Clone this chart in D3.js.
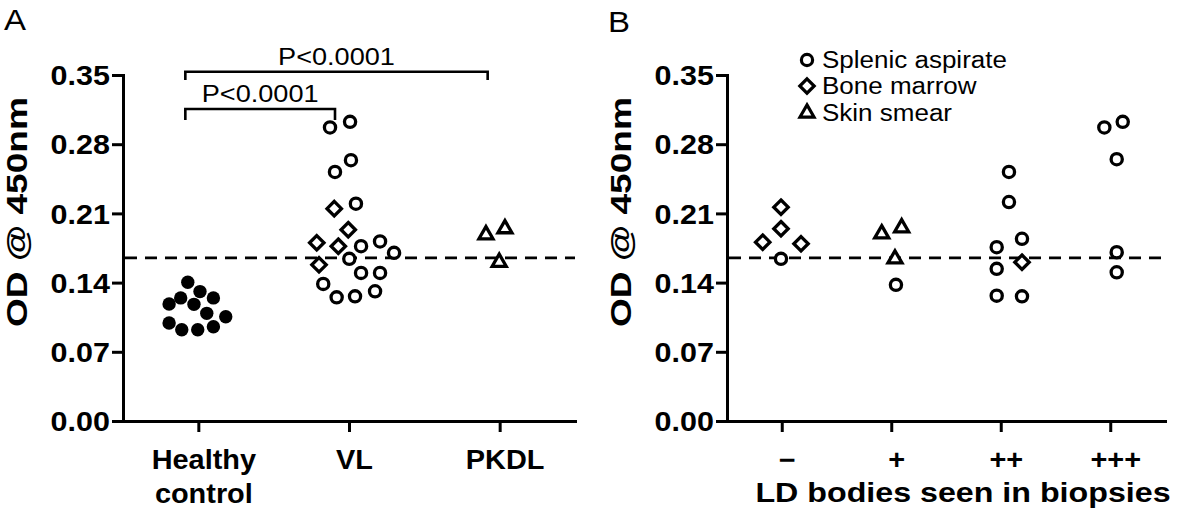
<!DOCTYPE html>
<html>
<head>
<meta charset="utf-8">
<script src="https://cdn.jsdelivr.net/npm/d3@7"></script>
<style>
  html, body { margin: 0; padding: 0; background: #fff; }
  svg { display: block; }
  text { font-family: "Liberation Sans", Arial, Helvetica, sans-serif; fill: #000; }
</style>
</head>
<body>
<svg id="chart" width="1181" height="508"></svg>
<script>
// ---------- DATA ----------
const yTicks = [0.00, 0.07, 0.14, 0.21, 0.28, 0.35];
const cutoff = 0.165;

// Panel A
const catsA = ["Healthy control", "VL", "PKDL"];
const healthyOD   = [0.1403, 0.1309, 0.1245, 0.1245, 0.1184, 0.1180, 0.1089, 0.1055, 0.0991, 0.0923, 0.0923, 0.0954];
const healthyJit  = [-0.070, 0.011, -0.117, 0.100, -0.194, -0.029, 0.056, 0.182, -0.194, -0.110, -0.004, 0.100];
const vlSplenicOD  = [0.2969, 0.3026, 0.2519, 0.2638, 0.2198, 0.1768, 0.1816, 0.1701, 0.1640, 0.1498, 0.1498, 0.1387, 0.1251, 0.1261, 0.1312];
const vlSplenicJit = [-0.126, 0.007, -0.093, 0.013, 0.046, 0.080, 0.206, 0.299, 0.002, 0.080, 0.206, -0.171, -0.082, 0.040, 0.173];
const vlMarrowOD   = [0.2148, 0.1935, 0.1803, 0.1768, 0.1580];
const vlMarrowJit  = [-0.098, -0.005, -0.214, -0.071, -0.199];
const pkdlSkinOD   = [0.1884, 0.1945, 0.1606];
const pkdlSkinJit  = [-0.091, 0.035, -0.003];
const pLabels = ["P<0.0001", "P<0.0001"];

// Panel B
const catsB = ["\u2212", "+", "++", "+++"];
const bSplenicCat = [0, 1, 2, 2, 2, 2, 2, 2, 2, 3, 3, 3, 3, 3];
const bSplenicOD  = [0.1640, 0.1377, 0.2519, 0.2215, 0.1758, 0.1539, 0.1268, 0.1843, 0.1261, 0.2969, 0.3026, 0.2648, 0.1707, 0.1504];
const bSplenicJit = [-0.007, 0.043, 0.075, 0.075, -0.037, -0.037, -0.037, 0.194, 0.194, -0.054, 0.114, 0.059, 0.059, 0.059];
const bMarrowCat  = [0, 0, 0, 0, 2];
const bMarrowOD   = [0.2163, 0.1945, 0.1809, 0.1793, 0.1606];
const bMarrowJit  = [-0.007, -0.007, -0.174, 0.176, 0.194];
const bSkinCat    = [1, 1, 1];
const bSkinOD     = [0.1894, 0.1955, 0.1640];
const bSkinJit    = [-0.087, 0.095, 0.034];
const legendLabels = ["Splenic aspirate", "Bone marrow", "Skin smear"];
const yTitle = "OD @ 450nm";
const xTitleB = "LD bodies seen in biopsies";

// ---------- DRAW ----------
const svg = d3.select("#chart");
const FONT = '"Liberation Sans", Arial, Helvetica, sans-serif';

function stretch(sel, k) {
  sel.each(function () {
    const w = this.getComputedTextLength();
    this.setAttribute("textLength", w * k);
    this.setAttribute("lengthAdjust", "spacingAndGlyphs");
  });
}

const y = d3.scaleLinear().domain([0, 0.35]).range([421, 75]);

const circlePath   = d3.symbol(d3.symbolCircle, Math.PI * 5.6 * 5.6)();
const filledPath   = d3.symbol(d3.symbolCircle, Math.PI * 6.7 * 6.7)();
const trianglePath = d3.symbol(d3.symbolTriangle, 85)();
const diamondPath  = "M0,-7.2L7.2,0L0,7.2L-7.2,0Z";

function drawPoints(g, x, cats, ods, jits, path, filled) {
  g.selectAll(null)
    .data(ods.map((v, i) => ({ c: cats[i], v, j: jits[i] })))
    .join("path")
    .attr("d", path)
    .attr("transform", d => `translate(${x(d.c + d.j)},${y(d.v)})`)
    .attr("fill", filled ? "#000" : "#fff")
    .attr("stroke", "#000")
    .attr("stroke-width", filled ? 0 : 3.3)
    .attr("stroke-linejoin", "miter");
}

function drawPanel(x0, x1, cats, letter) {
  const x = d3.scaleLinear().domain([-0.5, cats.length - 0.5]).range([x0, x1]);
  const g = svg.append("g");

  // y axis
  const ya = g.append("g").attr("transform", `translate(${x0},0)`)
    .call(d3.axisLeft(y).tickValues(yTicks).tickFormat(d3.format(".2f")).tickSize(11).tickSizeOuter(0).tickPadding(2));
  // x axis
  const xa = g.append("g").attr("transform", `translate(0,${y(0)})`)
    .call(d3.axisBottom(x).tickValues(d3.range(cats.length)).tickFormat(i => cats[i]).tickSize(11).tickSizeOuter(0).tickPadding(0));

  [ya, xa].forEach(a => {
    a.select(".domain").attr("stroke", "#000").attr("stroke-width", 3).attr("stroke-linecap", "square");
    a.selectAll(".tick line").attr("stroke", "#000").attr("stroke-width", 3);
  });
  ya.selectAll(".tick text")
    .attr("font-family", FONT).attr("font-size", 27).attr("font-weight", "bold").attr("fill", "#000")
    .attr("dy", "0.36em");
  stretch(ya.selectAll(".tick text"), 1.13);

  // category labels (multi-line)
  xa.selectAll(".tick text").each(function (i) {
    const t = d3.select(this);
    const words = cats[i].split(" ");
    t.text(null).attr("y", 0).attr("dy", null)
      .attr("font-family", FONT).attr("font-size", 27).attr("font-weight", "bold").attr("fill", "#000");
    words.forEach((w, k) => {
      const ts = t.append("tspan").attr("x", 5).attr("y", 48 + k * 34).text(w);
      stretch(ts, 1.07);
    });
  });

  // y title
  const yt = g.append("text")
    .attr("transform", `translate(${x0 - 96},212) rotate(-90)`)
    .attr("text-anchor", "middle")
    .attr("font-size", 29).attr("font-weight", "bold")
    .text(yTitle);
  yt.attr("textLength", 230).attr("lengthAdjust", "spacingAndGlyphs");

  // cutoff line
  g.append("line")
    .attr("x1", x0 + 2).attr("x2", x1)
    .attr("y1", y(cutoff)).attr("y2", y(cutoff))
    .attr("stroke", "#000").attr("stroke-width", 2.6).attr("stroke-dasharray", "12,8");

  // panel letter
  const lt = g.append("text").attr("x", x0 - 119).attr("y", letter === "A" ? 30 : 32)
    .attr("font-size", 30).text(letter);
  stretch(lt, 1.1);

  return { g, x };
}

// Panel A
const A = drawPanel(123, 575, catsA, "A");
drawPoints(A.g, A.x, healthyOD.map(() => 0), healthyOD, healthyJit, filledPath, true);
drawPoints(A.g, A.x, vlSplenicOD.map(() => 1), vlSplenicOD, vlSplenicJit, circlePath, false);
drawPoints(A.g, A.x, vlMarrowOD.map(() => 1), vlMarrowOD, vlMarrowJit, diamondPath, false);
drawPoints(A.g, A.x, pkdlSkinOD.map(() => 2), pkdlSkinOD, pkdlSkinJit, trianglePath, false);

// significance brackets
const brackets = [
  { from: 0, to: 2, yTop: 71.7, yEnd: 80, dxL: -13, dxR: -12, label: pLabels[0] },
  { from: 0, to: 1, yTop: 109, yEnd: 120, dxL: -13, dxR: -14, label: pLabels[1] }
];
brackets.forEach(b => {
  const xl = A.x(b.from) + b.dxL, xr = A.x(b.to) + b.dxR;
  A.g.append("path")
    .attr("d", `M${xl},${b.yEnd}V${b.yTop}H${xr}V${b.yEnd}`)
    .attr("fill", "none").attr("stroke", "#000").attr("stroke-width", 2.6);
  const t = A.g.append("text").attr("x", (xl + xr) / 2).attr("y", b.yTop - 7)
    .attr("text-anchor", "middle").attr("font-size", 24).text(b.label);
  stretch(t, 1.13);
});

// Panel B
const B = drawPanel(727, 1165, catsB, "B");
drawPoints(B.g, B.x, bSplenicCat, bSplenicOD, bSplenicJit, circlePath, false);
drawPoints(B.g, B.x, bMarrowCat, bMarrowOD, bMarrowJit, diamondPath, false);
drawPoints(B.g, B.x, bSkinCat, bSkinOD, bSkinJit, trianglePath, false);

// x title B
const xt = B.g.append("text").attr("x", 963).attr("y", 502)
  .attr("text-anchor", "middle").attr("font-size", 28).attr("font-weight", "bold").text(xTitleB);
stretch(xt, 1.15);

// legend
const legendShapes = [circlePath, diamondPath, trianglePath];
const legendY = [60, 86, 113];
legendLabels.forEach((lab, i) => {
  B.g.append("path").attr("d", legendShapes[i])
    .attr("transform", `translate(807,${legendY[i]})`)
    .attr("fill", "#fff").attr("stroke", "#000").attr("stroke-width", 3.2);
  const t = B.g.append("text").attr("x", 822).attr("y", legendY[i]).attr("dy", "0.36em")
    .attr("font-size", 23).attr("fill", "#111").text(lab);
  stretch(t, 1.13);
});
</script>
</body>
</html>
